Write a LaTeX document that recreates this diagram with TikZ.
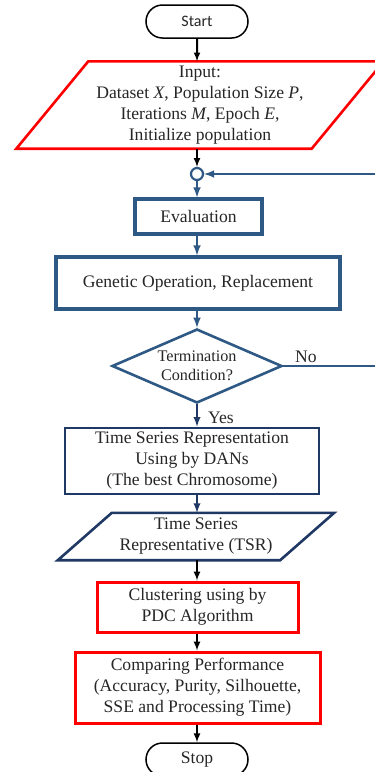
\documentclass[tikz,border=0pt]{standalone}
\usepackage{fontspec}
\setmainfont{Liberation Serif}
\newfontfamily\termfont{Carlito}
\usepackage{xcolor}
\usepackage{tikz}
\usetikzlibrary{calc}
\usetikzlibrary{arrows}
\usetikzlibrary{arrows.meta}
\usetikzlibrary{shapes}
\usetikzlibrary{shapes.geometric}
\usetikzlibrary{shadows}
\definecolor{flowblue}{RGB}{46,89,132}
\definecolor{flownavy}{RGB}{31,56,100}
\definecolor{flowred}{RGB}{255,0,0}
\definecolor{flowtext}{RGB}{38,38,38}
\tikzset{>=latex}
\tikzstyle{txt} = [text = flowtext, font = \fontsize{17.6}{21}\selectfont, align = center]
\tikzstyle{term} = [rounded rectangle, draw = black, line width = 1.5pt, minimum width = 102pt, minimum height = 33pt, inner sep = 0, txt]
\tikzstyle{iobox} = [rectangle, draw = none, inner sep = 0, txt]
\tikzstyle{bluebox} = [rectangle, draw = flowblue, line width = 3.2pt, fill = white, inner sep = 0, txt, drop shadow = {shadow xshift = 1.5pt, shadow yshift = -1.5pt, opacity = 0.25}]
\tikzstyle{navybox} = [rectangle, draw = flownavy, line width = 2.8pt, inner sep = 0, txt]
\tikzstyle{redbox} = [rectangle, draw = flowred, line width = 3pt, inner sep = 0, txt]
\tikzstyle{blueline} = [draw = flowblue, line width = 2.4pt]
\tikzstyle{navyline} = [draw = flownavy, line width = 2.2pt]
\tikzstyle{blackline} = [draw = black, line width = 2pt]

\begin{document}
\begin{tikzpicture}[x = 1pt, y = -1pt]
\useasboundingbox (0, 0) rectangle (375, 772);
\clip (0, 0) rectangle (375, 772);
\node [term] (start) at (197, 21.5) {\termfont\fontsize{16}{19}\selectfont Start};
\node [iobox, minimum width = 295pt, minimum height = 87pt] (input) at (200, 105) {Input:\\Dataset \textit{X}, Population Size \textit{P},\\Iterations \textit{M}, Epoch \textit{E},\\Initialize population};
\draw [draw = flowred, line width = 2.6pt] ($(input.south west)+(-36, 0)$) -- ($(input.north west)+(36, 0)$) -- ($(input.north east)+(36, 0)$) -- ($(input.south east)+(-36, 0)$) -- cycle;
\node [circle, draw = flowblue, line width = 2.2pt, fill = white, minimum size = 12pt, inner sep = 0] (merge) at (197, 174) {};
\node [bluebox, minimum width = 127pt, minimum height = 35pt] (eval) at (198.5, 216.5) {Evaluation};
\node [bluebox, minimum width = 284pt, minimum height = 52pt] (genop) at (198, 283) {Genetic Operation, Replacement};
\node [diamond, draw = flowblue, line width = 2.6pt, fill = white, aspect = 2.3, inner sep = 0, minimum width = 170pt, minimum height = 74pt, txt, font = \fontsize{16.2}{19}\selectfont] (cond) at (197, 366) {Termination\\Condition?};
\node [iobox] (no) at (306, 356.5) {No};
\node [iobox] (yes) at (221, 417.5) {Yes};
\node [navybox, minimum width = 254pt, minimum height = 66pt] (repr) at (192, 461) {Time Series Representation\\Using by DANs\\(The best Chromosome)};
\node [iobox, minimum width = 222pt, minimum height = 47pt] (tsr) at (196, 536.5) {Time Series\\Representative (TSR)};
\draw [draw = flownavy, line width = 2.6pt] ($(tsr.south west)+(-27, 0)$) -- ($(tsr.north west)+(27, 0)$) -- ($(tsr.north east)+(27, 0)$) -- ($(tsr.south east)+(-27, 0)$) -- cycle;
\node [redbox, minimum width = 201pt, minimum height = 50pt] (clust) at (197.5, 607) {Clustering using by\\PDC Algorithm};
\node [redbox, minimum width = 245pt, minimum height = 71pt] (comp) at (197.5, 687.5) {Comparing Performance\\(Accuracy, Purity, Silhouette,\\SSE and Processing Time)};
\node [term] (stop) at (197, 759.5) {Stop};
\draw [blackline, -latex] (start) -- (start |- input.north);
\draw [blackline, -latex] (input.south -| merge) -- (merge);
\draw [blueline, -latex] (merge) -- (merge |- eval.north);
\draw [blueline, -latex] (eval.south -| merge) -- (merge |- genop.north);
\draw [blueline, -latex] (genop.south -| merge) -- (cond);
\draw [blueline, -latex] (cond.east) -- ++(110, 0) |- (merge.east);
\draw [navyline, -latex] (cond.south) -- (cond.south |- repr.north);
\draw [navyline, -latex] (repr.south -| merge) -- (merge |- tsr.north);
\draw [blackline, -latex] (tsr.south -| merge) -- (merge |- clust.north);
\draw [blackline, -latex] (clust.south -| merge) -- (merge |- comp.north);
\draw [blackline, -latex] (comp.south -| merge) -- (stop);
\end{tikzpicture}
\end{document}
